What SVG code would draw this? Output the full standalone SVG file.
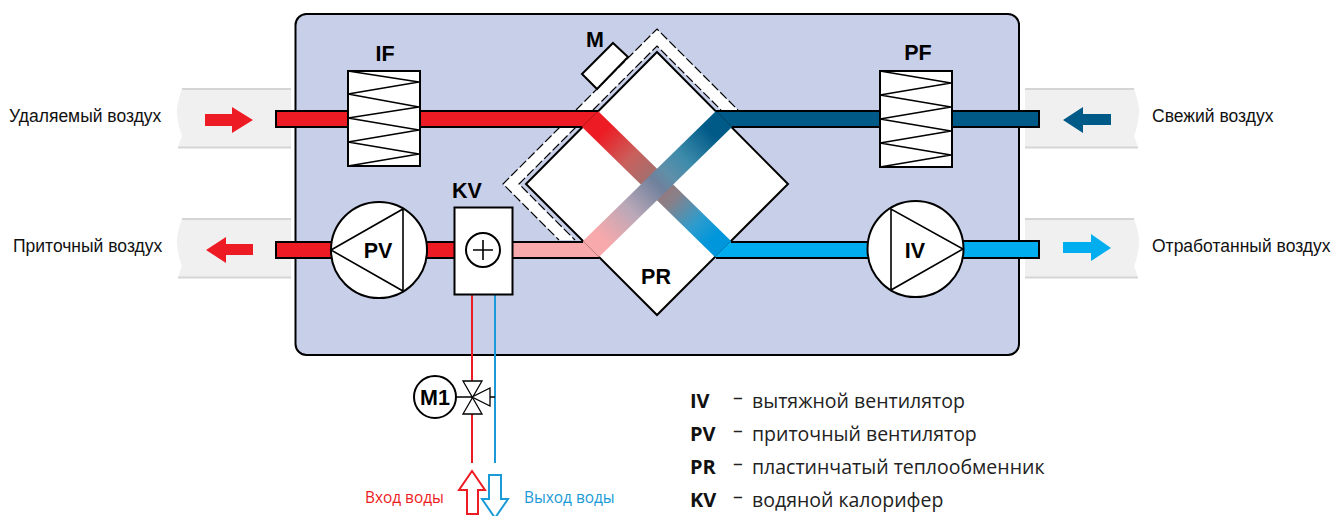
<svg xmlns="http://www.w3.org/2000/svg" width="1333" height="516" viewBox="0 0 1333 516">
<style>
.ln{stroke:#000;stroke-width:2;fill:none}
.nd{stroke:#000;stroke-width:2;fill:#fff}
.thin{stroke:#000;stroke-width:1.6;fill:none}
.tag{font:bold 21.500px "Liberation Sans",Arial,sans-serif;fill:#000;text-anchor:middle}
.air{font:17.500px "Liberation Sans",Arial,sans-serif;fill:#111}
.sock{fill:#f0f0f0}
.edge{fill:#d5d5d5}
.key{font:bold 20px "Open Sans",sans-serif;fill:#111}
.leg{font:19.500px "Open Sans",sans-serif;fill:#222}
.wat{font:15.400px "Open Sans",sans-serif}
</style>
<defs>
<linearGradient id="gr" gradientUnits="userSpaceOnUse" x1="590" y1="119" x2="723" y2="249">
<stop offset="0.1" stop-color="#ed1c24"/><stop offset="0.3" stop-color="#c9605c"/><stop offset="0.48" stop-color="#9c7272"/><stop offset="0.62" stop-color="#8a8088"/><stop offset="0.8" stop-color="#2d9ccd"/><stop offset="0.92" stop-color="#0096db"/>
</linearGradient>
<linearGradient id="gb" gradientUnits="userSpaceOnUse" x1="724" y1="119" x2="591" y2="249">
<stop offset="0.1" stop-color="#005a87"/><stop offset="0.3" stop-color="#3d8bab"/><stop offset="0.42" stop-color="#5f8fa9"/><stop offset="0.5" stop-color="#6f809c"/><stop offset="0.7" stop-color="#b9a8b8"/><stop offset="0.92" stop-color="#f8a9ab"/>
</linearGradient>
<path id="sockL" d="M182,0 Q176,16 177,25 Q178,37 182,47 Q180,52 178,59 H291 V0 Z"/>
<path id="sockR" d="M1134,0 Q1140,16 1139,25 Q1138,37 1134,47 Q1136,52 1138,59 H1025 V0 Z"/>
</defs>

<g id="unit"><rect x="295.500" y="14" width="723.500" height="341" rx="11" fill="#c7cfe9" stroke="#000" stroke-width="2"/></g>

<g id="sockets">
<use href="#sockL" class="sock" y="89"/><rect class="edge" x="182" y="88" width="109" height="2"/><rect class="edge" x="178" y="146.500" width="113" height="2"/>
<use href="#sockL" class="sock" y="219"/><rect class="edge" x="182" y="218" width="109" height="2"/><rect class="edge" x="178" y="276.500" width="113" height="2"/>
<use href="#sockR" class="sock" y="89"/><rect class="edge" x="1025" y="88" width="109" height="2"/><rect class="edge" x="1025" y="146.500" width="113" height="2"/>
<use href="#sockR" class="sock" y="219"/><rect class="edge" x="1025" y="218" width="109" height="2"/><rect class="edge" x="1025" y="276.500" width="113" height="2"/>
</g>

<g id="flow-arrows">
<polygon fill="#ed1c24" points="205,114 232,114 232,107 253,120 232,133 232,126 205,126"/>
<polygon fill="#ed1c24" points="253,244 226,244 226,237 206,250 226,263 226,255 253,255"/>
<polygon fill="#005a87" points="1111,114 1083,114 1083,107 1063,120 1083,133 1083,125 1111,125"/>
<polygon fill="#00aeef" points="1063,242 1091,242 1091,234 1111,248 1091,261 1091,253 1063,253"/>
</g>

<g id="PR">
<polygon fill="#fff" points="576,110 657,29 738,110 721,110 657,46 593,110"/>
<polygon fill="#fff" points="560,127 503,184 559,240 575,240 519,184 576,127"/>
<path d="M576,110 L657,29 L738,110 M560,127 L503,184 L559,240" fill="none" stroke="#000" stroke-width="1.200" stroke-dasharray="9 3"/>
<path d="M593,110 L657,46 L721,110 M576,127 L519,184 L575,240" fill="none" stroke="#000" stroke-width="1.200" stroke-dasharray="9 3"/>
<polygon class="nd" points="657,52 788,184 657,315 526,184"/>
<polygon fill="url(#gr)" points="598,111 582,127 715,257 731,241"/>
<polygon fill="url(#gb)" points="716,111 732,127 599,257 583,241"/>
<text class="tag" x="656" y="284">PR</text>
</g>

<g id="connectors">
<polygon points="276,111 598,111 582,127 276,127" fill="#ed1c24"/><path class="ln" d="M598,111 H276 V127 H582"/>
<polygon points="716,111 1039,111 1039,127 732,127" fill="#005a87"/><path class="ln" d="M716,111 H1039 V127 H732"/>
<rect x="276" y="242" width="60" height="16" fill="#ed1c24"/><path class="ln" d="M336,242 H276 V258 H336"/>
<rect x="425" y="242" width="30" height="16" fill="#ed1c24"/><path class="ln" d="M425,242 H455 M425,258 H455"/>
<polygon fill="#f8a9ab" points="512,242 583,241 599,257 512,258"/><path class="ln" d="M512,242 H583 M512,258 H599"/>
<polygon fill="#00aeef" points="731,241 870,241 870,258 715,257"/><path class="ln" d="M731,242 H870 M716,258 H870"/>
<rect x="960" y="241" width="79" height="17" fill="#00aeef"/><path class="ln" d="M960,241 H1039 V258 H960"/>
<path d="M472,295 V381 M472,414 V463" stroke="#ed1c24" stroke-width="2" fill="none"/>
<path d="M495,295 V463" stroke="#1a9ad7" stroke-width="2" fill="none"/>
<polygon points="472,471 459,490 467,490 467,514 478,514 478,490 485,490" fill="#fff" stroke="#ed1c24" stroke-width="2"/>
<polygon points="489,475 501,475 501,499 508,499 495,518 482,499 489,499" fill="#fff" stroke="#1a9ad7" stroke-width="2"/>
</g>

<g id="IF">
<rect class="nd" x="348" y="71" width="72" height="95"/>
<polyline class="thin" points="348,71 419,82 348,94 419,107 348,118 419,130 348,142 419,154 348,166"/>
<text class="tag" x="385" y="61">IF</text>
</g>
<g id="PF">
<rect class="nd" x="880" y="71" width="72" height="96"/>
<polyline class="thin" points="880,71 951,83 880,95 951,107 880,119 951,131 880,143 951,155 880,167"/>
<text class="tag" x="918" y="60">PF</text>
</g>
<g id="PV">
<circle class="nd" cx="379" cy="250" r="48"/>
<polygon class="thin" points="331,250 403,209 403,291"/>
<text class="tag" x="378" y="258">PV</text>
</g>
<g id="IV">
<circle class="nd" cx="915.500" cy="249" r="48"/>
<polygon class="thin" points="891,209 891,290 963,249"/>
<text class="tag" x="915" y="258">IV</text>
</g>
<g id="KV">
<rect class="nd" x="454.500" y="207.500" width="58" height="87"/>
<circle class="nd" cx="483" cy="250" r="17"/>
<path class="thin" d="M473,250 H493 M483,240 V260"/>
<text class="tag" x="467" y="198">KV</text>
</g>
<g id="M">
<polygon class="nd" points="613,43 628,57 597,89 582,74"/>
<text class="tag" x="595" y="47">M</text>
</g>
<g id="M1">
<circle class="nd" cx="435" cy="397" r="21"/>
<text class="tag" x="435" y="405">M1</text>
<path class="thin" d="M456,397 H472 M490,397 H495"/>
<polygon points="463,381 482,381 463,414 482,414" fill="#fff" stroke="#000" stroke-width="1.300"/>
<polygon points="490,388 490,406 472,397" fill="#fff" stroke="#000" stroke-width="1.300"/>
</g>

<g id="labels">
<text class="air" x="9" y="122">Удаляемый воздух</text>
<text class="air" x="13" y="252">Приточный воздух</text>
<text class="air" x="1152" y="122">Свежий воздух</text>
<text class="air" x="1152" y="252">Отработанный воздух</text>
<text class="wat" x="365" y="503" fill="#ed1c24">Вход воды</text>
<text class="wat" x="524" y="503" fill="#1a9ad7">Выход воды</text>
<text class="key" x="690" y="408">IV</text><text class="leg" x="733" y="408"><tspan dy="-4">–</tspan><tspan x="752" dy="4">вытяжной вентилятор</tspan></text>
<text class="key" x="690" y="441">PV</text><text class="leg" x="733" y="441"><tspan dy="-4">–</tspan><tspan x="752" dy="4">приточный вентилятор</tspan></text>
<text class="key" x="690" y="474">PR</text><text class="leg" x="733" y="474"><tspan dy="-4">–</tspan><tspan x="752" dy="4">пластинчатый теплообменник</tspan></text>
<text class="key" x="690" y="507">KV</text><text class="leg" x="733" y="507"><tspan dy="-4">–</tspan><tspan x="752" dy="4">водяной калорифер</tspan></text>
</g>
</svg>
